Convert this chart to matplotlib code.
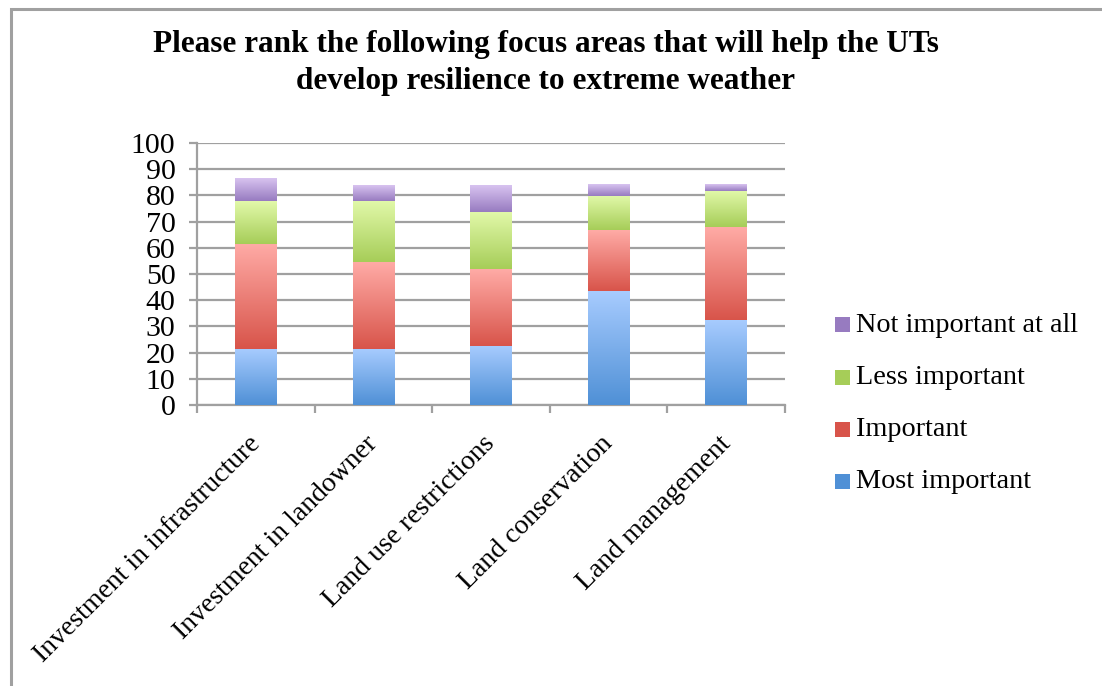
import numpy as np
import matplotlib
matplotlib.use("Agg")
import matplotlib.pyplot as plt
from matplotlib.colors import LinearSegmentedColormap
from matplotlib.patches import Rectangle

categories = ["Investment in infrastructure", "Investment in landowner",
              "Land use restrictions", "Land conservation", "Land management"]
most_important = [21.5, 21.5, 22.6, 43.7, 32.6]
important = [40.1, 33.0, 29.2, 23.1, 35.3]
less_important = [16.3, 23.4, 21.9, 13.0, 13.8]
not_important = [8.4, 6.1, 10.3, 4.2, 2.3]
series_names = ["Most important", "Important", "Less important", "Not important at all"]
yticks = list(range(0, 101, 10))
title = "Please rank the following focus areas that will help the UTs\ndevelop resilience to extreme weather"

# gradient (top colour, bottom colour)
grads = [("#a8ccff", "#4f90d6"), ("#ffaba6", "#d8544a"),
         ("#e2f9aa", "#a6cd58"), ("#d8c3f0", "#977bc0")]

serif = ["Liberation Serif", "DejaVu Serif"]
plt.rcParams['font.family'] = serif

W, H = 1102, 686
fig = plt.figure(figsize=(W / 100, H / 100), dpi=100)
ax = fig.add_axes([197 / W, 1 - 405 / H, (785 - 197) / W, (405 - 143) / H])

# chart border
fig.add_artist(Rectangle((11 / W, -0.1), 1.2, 1 - 8.5 / H + 0.1, transform=fig.transFigure,
                         fill=False, edgecolor="#a0a0a0", linewidth=2.2))

x = np.arange(len(categories))
width = 0.355
bottom = np.zeros(len(categories))
data = [most_important, important, less_important, not_important]
for vals, (ctop, cbot), name in zip(data, grads, series_names):
    bars = ax.bar(x, vals, width, bottom=bottom, color=cbot, edgecolor="none", zorder=3)
    cmap = LinearSegmentedColormap.from_list("g", [cbot, ctop])
    grad = np.linspace(0, 1, 256).reshape(-1, 1)
    for b in bars:
        x0, y0 = b.get_x(), b.get_y()
        w, h = b.get_width(), b.get_height()
        ax.imshow(grad, extent=(x0, x0 + w, y0, y0 + h), origin="lower",
                  cmap=cmap, aspect="auto", zorder=4)
        b.set_alpha(0)
    bottom += np.array(vals)

ax.set_xlim(-0.5, len(categories) - 0.5)
ax.set_ylim(0, 100)
ax.set_yticks(yticks)
ax.set_yticklabels([str(t) for t in yticks], fontsize=21.5)
ax.yaxis.grid(True, color="#a0a0a0", linewidth=1.6, zorder=0)
ax.set_axisbelow(True)
for s in ["top", "right"]:
    ax.spines[s].set_visible(False)
for s in ["left", "bottom"]:
    ax.spines[s].set_color("#a0a0a0")
    ax.spines[s].set_linewidth(1.6)
ax.tick_params(axis="y", length=5.5, width=1.6, color="#a0a0a0", pad=10)
ax.set_xticks(np.arange(len(categories) + 1) - 0.5)
ax.set_xticklabels([])
ax.tick_params(axis="x", length=6, width=1.6, color="#a0a0a0", direction="out")
for i, c in enumerate(categories):
    ax.annotate(c, xy=(i, 0), xycoords=("data", "axes fraction"),
                xytext=(-6, -19), textcoords="offset points",
                rotation=45, rotation_mode="anchor", ha="right", va="top",
                fontsize=20)

fig.text(546 / W, 1 - 63 / H, title, ha="center", va="center", fontsize=22.5,
         fontweight="bold", linespacing=1.32)

# legend (reverse order)
ys = [325, 377, 429, 481]
for (ctop, cbot), name, yy in zip(grads[::-1], series_names[::-1], ys):
    fig.patches.append(Rectangle((835 / W, 1 - (yy + 7.5) / H), 15 / W, 15 / H,
                                 transform=fig.transFigure, facecolor=cbot,
                                 edgecolor="none"))
    fig.text(856 / W, 1 - yy / H, name, ha="left", va="center", fontsize=20.3)

fig.savefig("out.png", dpi=100)
